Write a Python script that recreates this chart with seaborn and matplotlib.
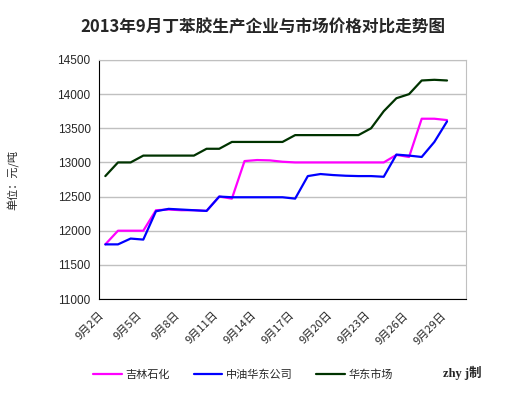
import pandas as pd
import matplotlib
matplotlib.use('Agg')
import matplotlib.pyplot as plt
import seaborn as sns

# 数据：2013年9月各日价格（元/吨）
days = list(range(2, 30))
jilin = [11800, 12000, 12000, 12000, 12300, 12310, 12300, 12300, 12290, 12500,
         12470, 13020, 13035, 13030, 13010, 13000, 13000, 13000, 13000, 13000,
         13000, 13000, 13000, 13110, 13080, 13640, 13640, 13620]
huadong_co = [11800, 11800, 11885, 11870, 12285, 12320, 12310, 12300, 12290, 12500,
              12490, 12490, 12490, 12490, 12490, 12470, 12800, 12830, 12815, 12805,
              12800, 12800, 12790, 13115, 13100, 13080, 13300, 13600]
market = [12800, 13000, 13000, 13100, 13100, 13100, 13100, 13100, 13200, 13200,
          13300, 13300, 13300, 13300, 13300, 13400, 13400, 13400, 13400, 13400,
          13400, 13500, 13750, 13940, 14000, 14200, 14210, 14200]
series_names = ['吉林石化', '中油华东公司', '华东市场']
colors = ['#FF00FF', '#0000FF', '#003300']
tick_days = [2, 5, 8, 11, 14, 17, 20, 23, 26, 29]
tick_labels = ['9月%d日' % d for d in tick_days]

df = pd.DataFrame({'day': days, '吉林石化': jilin, '中油华东公司': huadong_co, '华东市场': market})
long_df = df.melt(id_vars='day', var_name='series', value_name='price')

sns.set_style('white')
plt.rcParams['font.family'] = ['Noto Sans CJK SC', 'DejaVu Sans']

fig = plt.figure(figsize=(5.24, 3.95), dpi=100)
ax = fig.add_axes([99 / 524, 1 - 299 / 395, 367 / 524, 239 / 395])

sns.lineplot(data=long_df, x='day', y='price', hue='series', hue_order=series_names,
             palette=colors, linewidth=1.6, ax=ax, legend=False)

ax.set_xlim(1.5, 30.5)
ax.set_ylim(11000, 14500)
ax.set_yticks(range(11000, 14501, 500))
ax.set_xticks([d - 0.5 for d in tick_days])
ax.set_xticklabels(tick_labels, rotation=45, ha='right', va='top', rotation_mode='anchor', fontsize=8)
ax.tick_params(axis='x', direction='in', length=4, pad=8)
ax.tick_params(axis='y', direction='out', length=3, pad=3, labelsize=8.5)
for lab in ax.get_yticklabels():
    lab.set_family(['Liberation Sans'])
ax.grid(axis='y', color='#c0c0c0', linewidth=1)
ax.set_axisbelow(True)
ax.spines['left'].set_color('black')
ax.spines['bottom'].set_color('black')
ax.spines['top'].set_color('#c0c0c0')
ax.spines['right'].set_color('#c0c0c0')
ax.set_xlabel('')
ax.set_ylabel('')

fig.text(263 / 524, 1 - 27 / 395, '2013年9月丁苯胶生产企业与市场价格对比走势图',
         ha='center', va='center', fontsize=12, fontweight='bold')
fig.text(13 / 524, 1 - 180 / 395, '单位：元/吨', rotation=90, ha='center', va='center', fontsize=8)

handles = [plt.Line2D([], [], color=c, linewidth=1.6) for c in colors]
fig.legend(handles, series_names, loc='center', bbox_to_anchor=(243 / 524, 1 - 375 / 395),
           ncol=3, frameon=False, fontsize=8, handlelength=2.6, handletextpad=0.3,
           columnspacing=2.1)
fig.text(462 / 524, 1 - 373 / 395, 'zhy j制', ha='center', va='center', fontsize=9,
         fontweight='bold', family=['Liberation Serif', 'Noto Sans CJK SC'])

fig.savefig('out.png', dpi=100)
